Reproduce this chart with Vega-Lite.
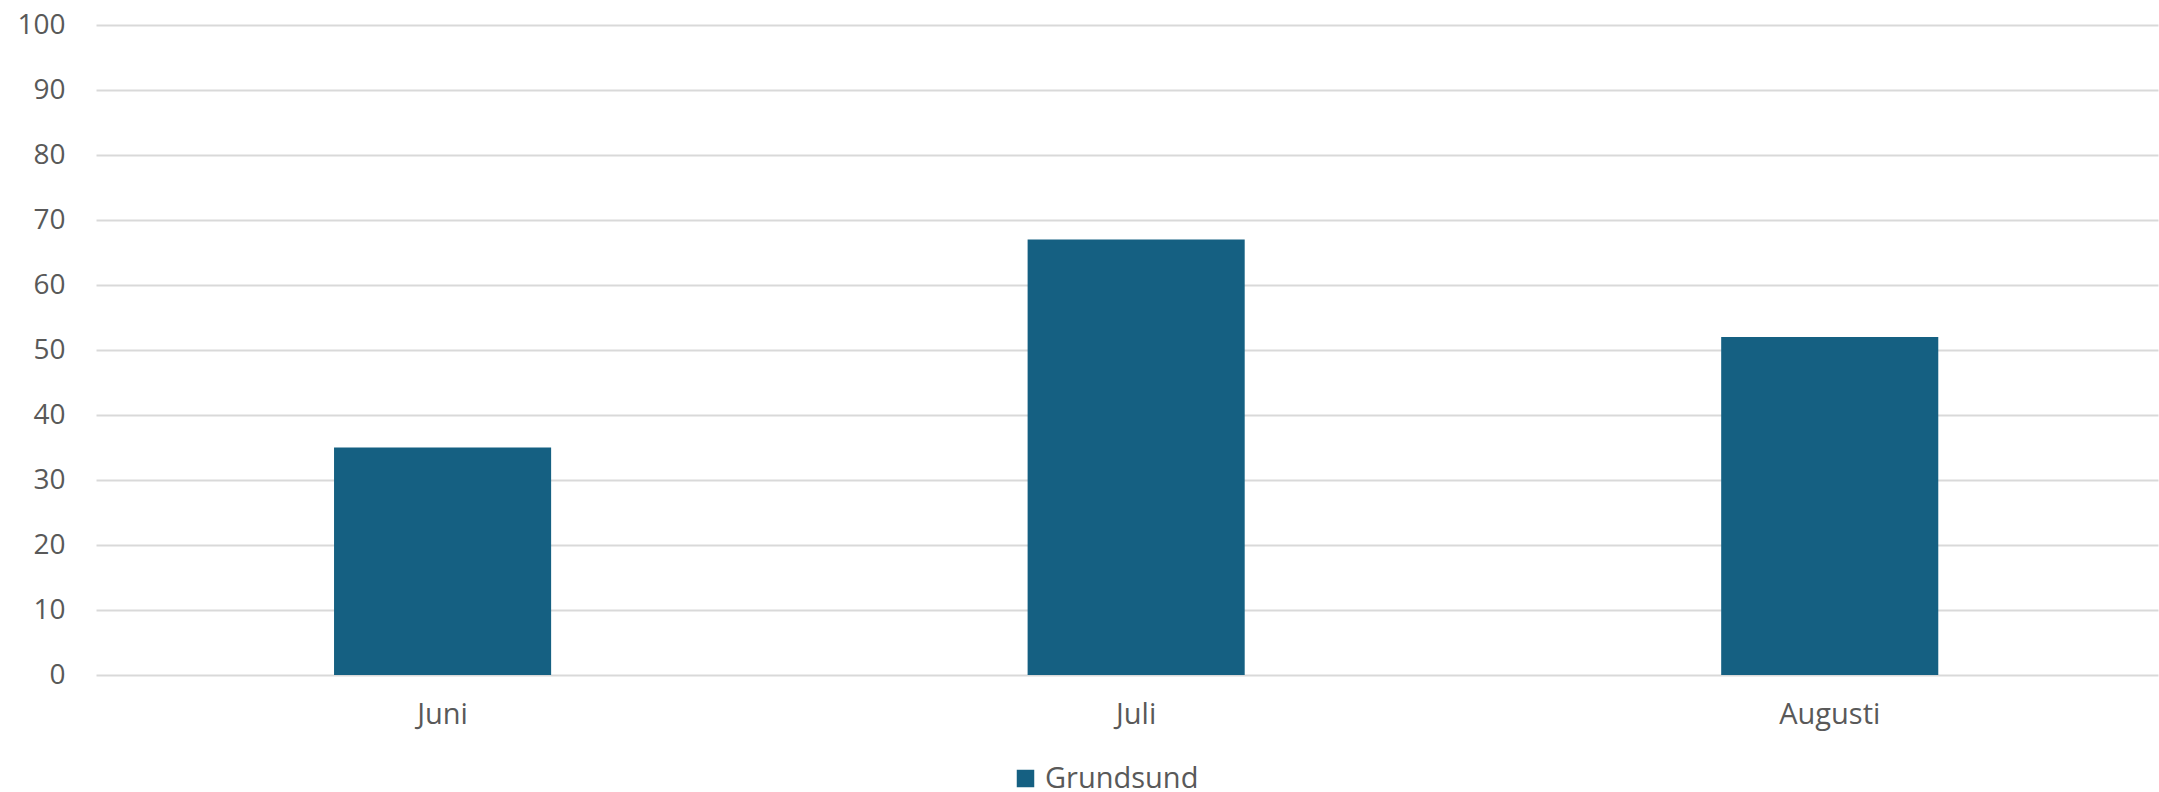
{
  "$schema": "https://vega.github.io/schema/vega-lite/v6.json",
  "autosize": {"type": "none"},
  "width": 2062,
  "height": 650,
  "padding": {"left": 96, "top": 25, "right": 1, "bottom": 117},
  "background": "#ffffff",
  "data": {"values": [
    {"month": "Juni", "series": "Grundsund", "value": 35},
    {"month": "Juli", "series": "Grundsund", "value": 67},
    {"month": "Augusti", "series": "Grundsund", "value": 52}
  ]},
  "mark": {"type": "bar"},
  "encoding": {
    "x": {"field": "month", "type": "nominal", "sort": ["Juni", "Juli", "Augusti"],
      "scale": {"paddingInner": 0.687, "paddingOuter": 0.33, "align": 0.52},
      "axis": {"title": null, "labelAngle": 0, "ticks": false, "domain": false, "grid": false,
        "labelFont": "Open Sans", "labelFontSize": 29, "labelColor": "#595959", "labelPadding": 25}},
    "y": {"field": "value", "type": "quantitative",
      "scale": {"domain": [0, 100], "nice": false},
      "axis": {"title": null, "values": [0,10,20,30,40,50,60,70,80,90,100], "ticks": false, "domain": false,
        "grid": true, "gridColor": "#d9d9d9", "gridWidth": 2,
        "labelFont": "Open Sans", "labelFontSize": 28, "labelColor": "#595959", "labelPadding": 31}},
    "color": {"field": "series", "type": "nominal",
      "scale": {"range": ["#156082"]},
      "legend": {"title": null, "orient": "none", "legendX": 915, "legendY": 739, "direction": "horizontal",
        "symbolType": "square", "symbolSize": 306, "symbolStrokeWidth": 0, "labelOffset": 5,
        "labelFont": "Open Sans", "labelFontSize": 29, "labelColor": "#595959", "padding": 0}}
  },
  "config": {"view": {"stroke": null}}
}
